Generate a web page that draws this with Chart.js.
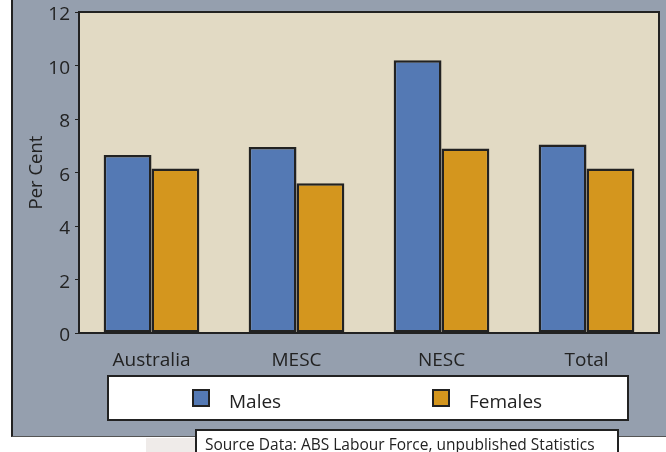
<!DOCTYPE html>
<html>
<head>
<meta charset="utf-8">
<script src="https://cdn.jsdelivr.net/npm/chart.js@4.4.1/dist/chart.umd.min.js"></script>
<style>
  html, body { margin: 0; padding: 0; background: #fff; }
  body { width: 666px; height: 452px; position: relative; overflow: hidden; font-family: "Open Sans", "Noto Sans", sans-serif; color: #222; }
  #panel { position: absolute; left: 11px; top: 0; width: 655px; height: 437px; background: #959fae; border-left: 2px solid #222; border-bottom: 1px solid #555; box-sizing: border-box; }
  #strip { position: absolute; left: 146px; top: 438px; width: 50px; height: 14px; background: #efebe9; }
  #wrap { position: absolute; left: 0; top: 0; width: 666px; height: 452px; }
  #legend { position: absolute; left: 107px; top: 375px; width: 522px; height: 46px; background: #fff; border: 2px solid #222; box-sizing: border-box; font-size: 19px; }
  .item { position: absolute; top: 12px; height: 20px; line-height: 20px; }
  .sw { position: absolute; top: 0; width: 18px; height: 18px; border: 2px solid #222; box-sizing: border-box; }
  .lbl { position: absolute; top: 2px; white-space: nowrap; }
  #source { position: absolute; left: 195px; top: 429px; width: 424px; height: 30px; background: #fff; border: 2px solid #222; box-sizing: border-box; font-size: 15.5px; padding: 2px 0 0 8px; white-space: nowrap; }
</style>
</head>
<body>
<div id="panel"></div>
<div id="strip"></div>
<div id="wrap"><canvas id="chart" width="666" height="452"></canvas></div>
<div id="legend">
  <div class="item" style="left:83px"><div class="sw" style="background:#5479b4"></div><span class="lbl" style="left:37px">Males</span></div>
  <div class="item" style="left:323px"><div class="sw" style="background:#d4961e"></div><span class="lbl" style="left:37px">Females</span></div>
</div>
<div id="source">Source Data: ABS Labour Force, unpublished Statistics</div>
<script>
// Per Cent by region, males vs females
const categories = ["Australia", "MESC", "NESC", "Total"];
const males = [6.65, 6.95, 10.2, 7.05];
const females = [6.15, 5.6, 6.9, 6.15];
const yTicks = [0, 2, 4, 6, 8, 10, 12];

const COLORS = {
  males: "#5479b4",
  females: "#d4961e",
  plot: "#e2dac4",
  edge: "#222222",
  text: "#222222",
};

// fill the plot area and draw its frame
const plotFrame = {
  id: "plotFrame",
  beforeDatasetsDraw(chart) {
    const { ctx, chartArea: a } = chart;
    ctx.save();
    ctx.fillStyle = COLORS.plot;
    ctx.fillRect(a.left, a.top, a.right - a.left, a.bottom - a.top);
    ctx.restore();
  },
  afterDatasetsDraw(chart) {
    const { ctx, chartArea: a } = chart;
    ctx.save();
    ctx.strokeStyle = COLORS.edge;
    ctx.lineWidth = 2;
    ctx.strokeRect(a.left, a.top, a.right - a.left, a.bottom - a.top);
    ctx.restore();
  },
};

new Chart(document.getElementById("chart"), {
  type: "bar",
  data: {
    labels: categories,
    datasets: [
      { label: "Males", data: males, backgroundColor: COLORS.males, borderColor: COLORS.edge, borderWidth: 2.5, borderSkipped: false },
      { label: "Females", data: females, backgroundColor: COLORS.females, borderColor: COLORS.edge, borderWidth: 2.5, borderSkipped: false },
    ],
  },
  options: {
    responsive: false,
    animation: false,
    layout: { padding: { left: 0, top: 12, right: 7, bottom: 0 } },
    datasets: { bar: { categoryPercentage: 0.66, barPercentage: 1 } },
    plugins: { legend: { display: false }, tooltip: { enabled: false } },
    scales: {
      x: {
        grid: { display: false, drawTicks: false },
        border: { display: false },
        ticks: { color: COLORS.text, font: { family: "Open Sans", size: 19 }, padding: 16 },
        afterFit(scale) { scale.height = 119; scale.paddingLeft = 0; scale.paddingRight = 0; },
      },
      y: {
        min: 0,
        max: 12,
        afterBuildTicks(scale) { scale.ticks = yTicks.map((v) => ({ value: v })); },
        grid: { drawOnChartArea: false, tickLength: 4, tickColor: COLORS.edge, tickWidth: 1 },
        border: { display: false },
        ticks: { color: COLORS.text, font: { family: "Open Sans", size: 19 }, padding: 5, labelOffset: 3 },
        title: { display: true, text: "Per Cent", color: COLORS.text, font: { family: "Open Sans", size: 18.5 }, padding: { top: 26, bottom: 0 } },
        afterFit(scale) { scale.width = 79; scale.paddingTop = 0; scale.paddingBottom = 0; },
      },
    },
  },
  plugins: [plotFrame],
});
</script>
</body>
</html>
